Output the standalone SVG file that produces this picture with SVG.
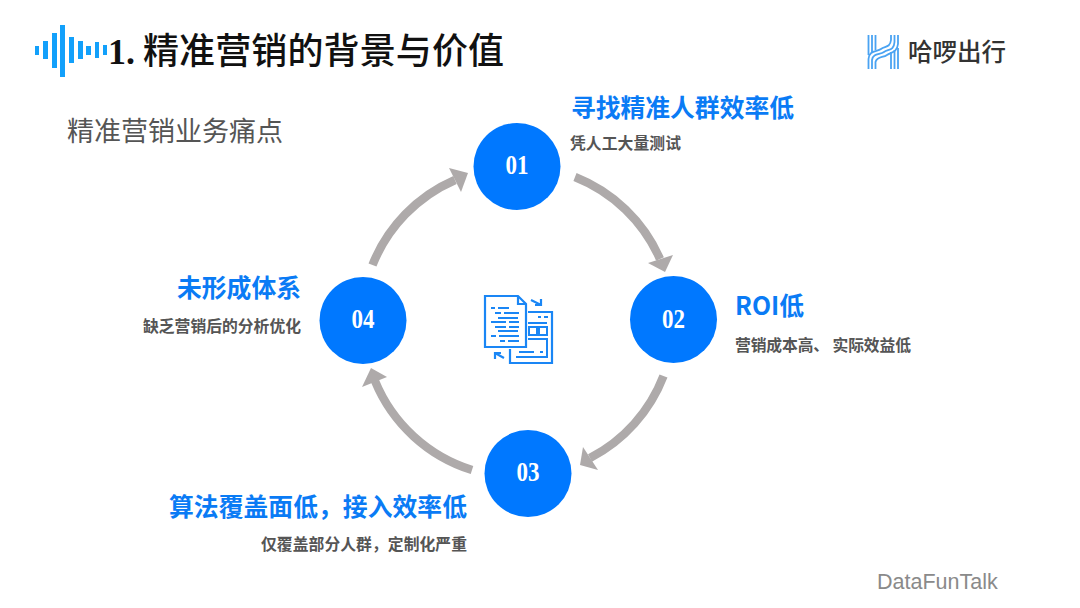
<svg xmlns="http://www.w3.org/2000/svg" width="1080" height="608" viewBox="0 0 1080 608">
<style>
.cjk{font-family:"Noto Sans CJK SC","Noto Sans",sans-serif}
.head{font-size:24.800px;font-weight:700;fill:#0a7bf5}
.sub{font-size:15.800px;font-weight:700;fill:#555}
.num{font-family:"Liberation Serif",serif;font-size:27px;font-weight:700;fill:#fff;text-anchor:middle}
.node{fill:#0078ff}
.arc{fill:none;stroke:#aeaaaa;stroke-width:8.500}
.head-tip{fill:#aeaaaa}
.bar{fill:#12a0fb}
.ic{fill:none;stroke:#1a86f5;stroke-width:2.200}
.icd{fill:none;stroke:#1a86f5;stroke-width:2}
.lg{fill:none;stroke:#4aa3f2;stroke-width:1.800}
</style>
<rect width="1080" height="608" fill="#fff"/>
<g id="wave">
<rect class="bar" x="35" y="46" width="4" height="9"/>
<rect class="bar" x="43" y="41" width="5" height="18"/>
<rect class="bar" x="52" y="33" width="5" height="35"/>
<rect class="bar" x="60" y="25" width="5" height="52"/>
<rect class="bar" x="69" y="37" width="5" height="26"/>
<rect class="bar" x="78" y="41" width="5" height="18"/>
<rect class="bar" x="86" y="46" width="5" height="9"/>
<rect class="bar" x="95" y="42" width="4" height="16"/>
<rect class="bar" x="103" y="45" width="4" height="10"/>
</g>
<g id="title">
<text x="108" y="64" font-family="Liberation Serif,serif" font-size="36" font-weight="700" fill="#111">1.</text>
<text x="143" y="64" class="cjk" font-size="36" font-weight="500" fill="#111" textLength="361">精准营销的背景与价值</text>
</g>
<text id="subtitle" x="67" y="141" class="cjk" font-size="27" fill="#555">精准营销业务痛点</text>
<g id="logo">
<path class="lg" d="M868.500 69V59C869 50 877 52 881 49C885 46 890 48 891 40V35M872 69V60C873 53 880 55 884 52C888 49 894 51 894.500 42V35M875.500 69V62C877 56 883 58 887 55C891 52 897 53 898 44V35"/>
<path class="lg" d="M868.500 35V55M872 35V52M875.500 35V50M891 69V52M894.500 69V50M898 69V48"/>
<text x="908" y="61" class="cjk" font-size="24.500" font-weight="500" fill="#333">哈啰出行</text>
</g>
<g id="connectors">
<path class="arc" d="M575 177A155 155 0 0 1 660 259"/>
<polygon class="head-tip" points="648,263 673,255 665,272"/>
<path class="arc" d="M663.500 376A155 155 0 0 1 590 458"/>
<polygon class="head-tip" points="583,447 580,465 598,470"/>
<path class="arc" d="M472 470A155 155 0 0 1 375 381"/>
<polygon class="head-tip" points="371,368 362,387 387,377"/>
<path class="arc" d="M372.500 265A155 155 0 0 1 455 180"/>
<polygon class="head-tip" points="449,168 468,173 461,192"/>
</g>
<g id="node-01">
<circle class="node" cx="517" cy="166.500" r="43.500"/>
<text class="num" x="517" y="173.500" textLength="23" lengthAdjust="spacingAndGlyphs">01</text>
<text class="cjk head" x="571" y="117" textLength="223">寻找精准人群效率低</text>
<text class="cjk sub" x="570" y="149" textLength="111">凭人工大量测试</text>
</g>
<g id="node-02">
<circle class="node" cx="673.500" cy="319.500" r="43.500"/>
<text class="num" x="673.500" y="327.500" textLength="23" lengthAdjust="spacingAndGlyphs">02</text>
<text class="cjk head" x="735" y="315">ROI低</text>
<text class="cjk sub" x="735" y="351" textLength="176">营销成本高、 实际效益低</text>
</g>
<g id="node-03">
<circle class="node" cx="528" cy="473.500" r="43.500"/>
<text class="num" x="528" y="481" textLength="23" lengthAdjust="spacingAndGlyphs">03</text>
<text class="cjk head" x="169" y="516" textLength="298">算法覆盖面低，接入效率低</text>
<text class="cjk sub" x="261" y="550" textLength="206">仅覆盖部分人群，定制化严重</text>
</g>
<g id="node-04">
<circle class="node" cx="363" cy="320.500" r="43.500"/>
<text class="num" x="363" y="328" textLength="23" lengthAdjust="spacingAndGlyphs">04</text>
<text class="cjk head" x="177" y="297" textLength="124">未形成体系</text>
<text class="cjk sub" x="143" y="332" textLength="158">缺乏营销后的分析优化</text>
</g>
<g id="center-icon">
<path class="ic" d="M485 296H518L526 304V347H485Z"/>
<path class="ic" d="M518 296V304H526"/>
<path class="ic" d="M528 312H552V363H510V349"/>
<path class="icd" d="M538 317H541M544 317H548M528 323H547M529 327H537V335H529ZM539 327H547V335H539ZM528 339H547V357H516M519 352H534M540 352H543M546 352H548"/>
<path class="icd" d="M491 308H495M498 308H509M495 313H501M504 313H519M498 318H518M491 322H506M509 322H519M495 327H506M509 327H519M498 331H518M491 336H496M499 336H519M500 341H505M508 341H519"/>
<path class="ic" d="M531 300L541 305M541 299V305H535"/>
<path class="ic" d="M504 358L495 353M495 359V353H501"/>
</g>
<text id="brand" x="877" y="589" font-family="Liberation Sans,sans-serif" font-size="21.500" fill="#8a8a8a">DataFunTalk</text>
</svg>
